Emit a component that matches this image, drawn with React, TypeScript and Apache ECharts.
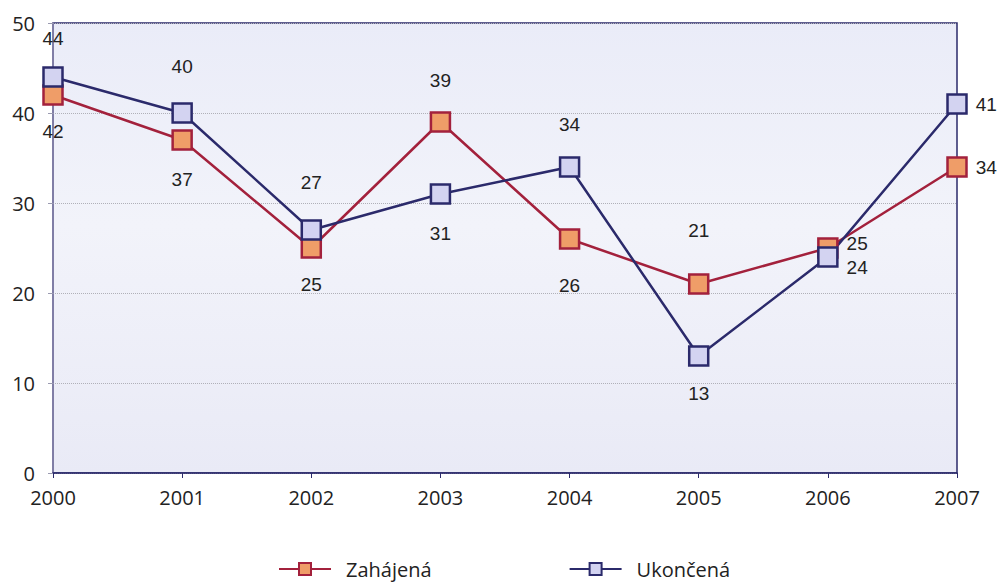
import React, { useEffect, useRef } from "react";
import * as echarts from "echarts";

const years = ["2000", "2001", "2002", "2003", "2004", "2005", "2006", "2007"];
const zahajena = [42, 37, 25, 39, 26, 21, 25, 34];
const ukoncena = [44, 40, 27, 31, 34, 13, 24, 41];
// label placement per point: [position, distance, vertical offset]
const zahLabelPos: [string, number, number][] = [
  ["bottom", 16, 0], ["bottom", 19, 0], ["bottom", 16, 0], ["top", 21, 0], ["bottom", 26, 0], ["top", 33, 0], ["right", 8, -5], ["right", 8, 0],
];
const ukoLabelPos: [string, number, number][] = [
  ["top", 18, 0], ["top", 26, 0], ["top", 27, 0], ["bottom", 19, 0], ["top", 22, 0], ["bottom", 17, 0], ["right", 8, 10], ["right", 8, 0],
];

const RED = "#a3213c";
const RED_FILL = "#ef9d68";
const BLUE = "#2b2a6b";
const BLUE_FILL = "#d3d3f1";

export default function App() {
  const ref = useRef<HTMLDivElement>(null);
  useEffect(() => {
    if (!ref.current) return;
    const chart = echarts.init(ref.current, undefined, { renderer: "svg" });
    const mk = (vals: number[], pos: [string, number, number][]) =>
      vals.map((v, i) => ({
        value: v,
        label: { position: pos[i][0], distance: pos[i][1], offset: [0, pos[i][2]] },
      }));
    const labelStyle = {
      show: true,
      fontFamily: "Liberation Sans, Arial, sans-serif",
      fontSize: 19,
      color: "#222",
    };
    chart.setOption({
      animation: false,
      backgroundColor: "#ffffff",
      grid: {
        left: 53,
        right: 41,
        top: 23,
        bottom: 114,
        show: true,
        borderColor: BLUE,
        borderWidth: 1.5,
        backgroundColor: {
          type: "linear",
          x: 0, y: 0, x2: 0, y2: 1,
          colorStops: [
            { offset: 0, color: "#eaecf8" },
            { offset: 0.45, color: "#f2f3fa" },
            { offset: 1, color: "#e9eaf6" },
          ],
        },
      },
      legend: {
        top: 554,
        left: 273,
        itemGap: 137,
        itemWidth: 52,
        itemHeight: 15,
        textStyle: { fontFamily: "Open Sans, sans-serif", fontSize: 20, color: "#222", padding: [0, 0, 0, 10] },
        data: ["Zahájená", "Ukončená"],
      },
      xAxis: {
        type: "category",
        data: years,
        boundaryGap: false,
        axisLine: { lineStyle: { color: BLUE, width: 1.5 } },
        axisTick: { show: true, alignWithLabel: true, length: 5, lineStyle: { color: BLUE } },
        axisLabel: { fontFamily: "Open Sans, sans-serif", fontSize: 20, color: "#222", margin: 14 },
        splitLine: { show: false },
      },
      yAxis: {
        type: "value",
        min: 0,
        max: 50,
        interval: 10,
        axisLine: { show: true, lineStyle: { color: "#8c8aae", width: 1.5 } },
        axisTick: { show: true, length: 5, lineStyle: { color: "#9a9ab0" } },
        axisLabel: { fontFamily: "Open Sans, sans-serif", fontSize: 20, color: "#222", margin: 18 },
        splitLine: { show: true, lineStyle: { color: "#b0b0b8", type: "dotted", width: 1 } },
      },
      series: [
        {
          name: "Zahájená",
          type: "line",
          data: mk(zahajena, zahLabelPos),
          symbol: "rect",
          symbolSize: 19,
          lineStyle: { color: RED, width: 2.5 },
          itemStyle: { color: RED_FILL, borderColor: RED, borderWidth: 2.5 },
          label: labelStyle,
        },
        {
          name: "Ukončená",
          type: "line",
          data: mk(ukoncena, ukoLabelPos),
          symbol: "rect",
          symbolSize: 19,
          lineStyle: { color: BLUE, width: 2.5 },
          itemStyle: { color: BLUE_FILL, borderColor: BLUE, borderWidth: 2.5 },
          label: labelStyle,
        },
      ],
    });
    return () => chart.dispose();
  }, []);
  return <div ref={ref} style={{ width: 998, height: 587, position: "absolute", left: 0, top: 0 }} />;
}
